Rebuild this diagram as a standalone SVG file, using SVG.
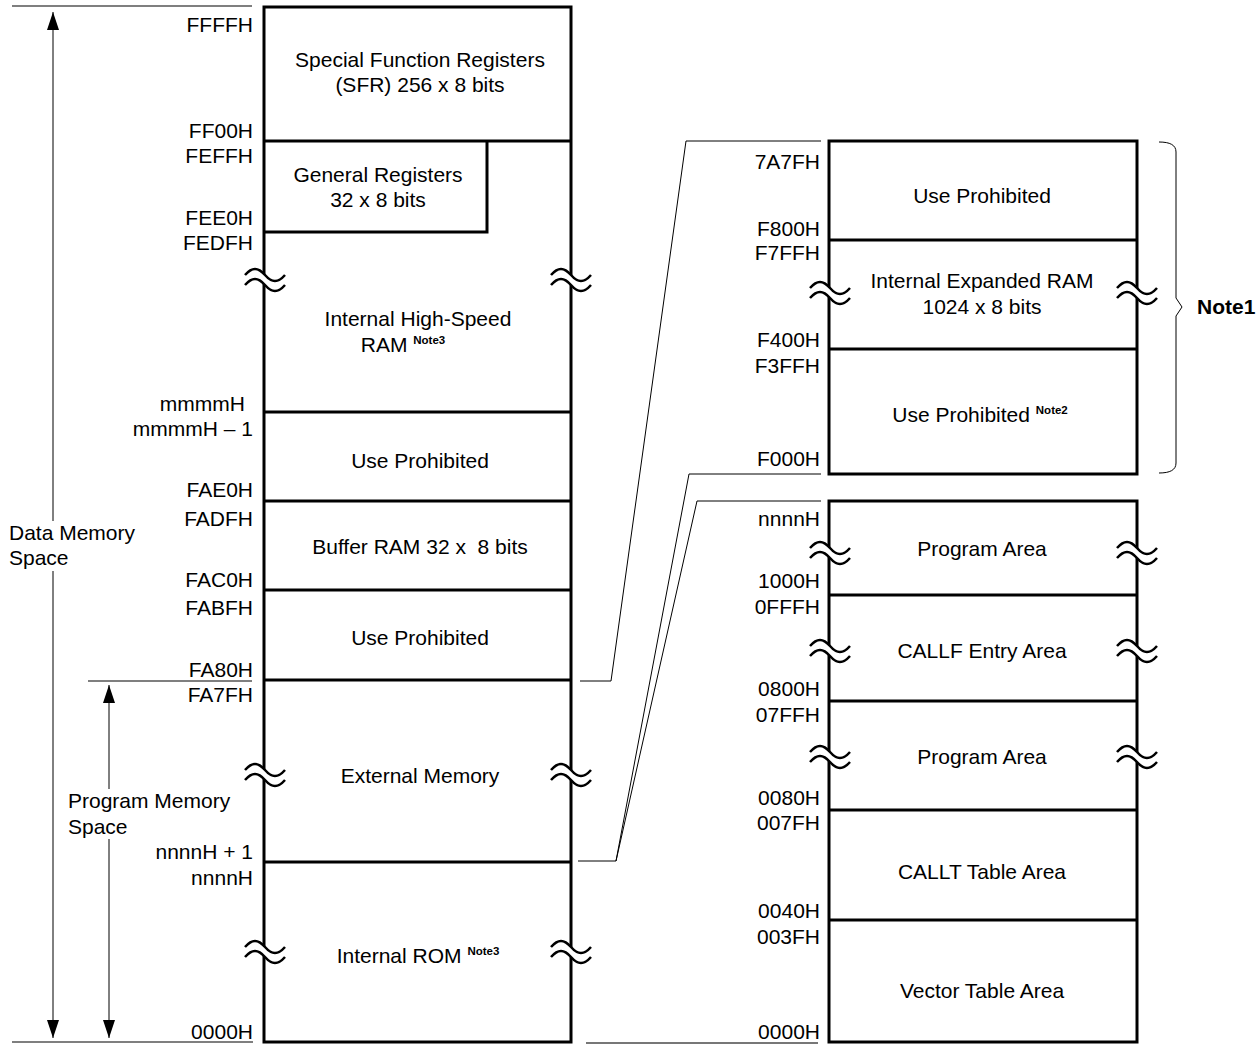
<svg xmlns="http://www.w3.org/2000/svg" xmlns:xlink="http://www.w3.org/1999/xlink" width="1258" height="1045" viewBox="0 0 1258 1045">
<style>
  text { font-family: "Liberation Sans", Arial, sans-serif; font-size: 21px; fill: #000; }
  .r { text-anchor: end; }
  .c { text-anchor: middle; }
  .sup { font-size: 11.5px; font-weight: bold; }
  .b { font-weight: bold; }
  .box { fill: #fff; stroke: #000; stroke-width: 3; }
  .div { stroke: #000; stroke-width: 3; fill: none; }
  .thin { stroke: #000; stroke-width: 1; fill: none; }
  .guide { stroke: #555; stroke-width: 1.5; fill: none; }
  .wave { stroke: #000; stroke-width: 2.5; fill: none; }
  .bg { fill: #fff; stroke: none; }
</style>
<defs>
  <g id="brk">
    <path d="M-20,-5 C-13,-13 -7,-13 0,-5 S13,3 20,-5 L20,5 C13,13 7,13 0,5 S-13,-3 -20,5 Z" fill="#fff" stroke="none"/>
    <path class="wave" d="M-20,-5 C-13,-13 -7,-13 0,-5 S13,3 20,-5"/>
    <path class="wave" d="M-20,5 C-13,-3 -7,-3 0,5 S13,13 20,5"/>
  </g>
  <marker id="ahs" viewBox="0 0 18 12" refX="18" refY="6" markerWidth="18" markerHeight="12" markerUnits="userSpaceOnUse" orient="auto-start-reverse">
    <path d="M0,0 L18,6 L0,12 Z" fill="#000"/>
  </marker>
</defs>

<g id="connectors">
  <line class="guide" x1="12" y1="6" x2="252" y2="6"/>
  <line class="guide" x1="12" y1="1042" x2="253" y2="1042"/>
  <line class="guide" x1="88" y1="681" x2="252" y2="681"/>
  <line class="thin" x1="53" y1="12" x2="53" y2="1038" marker-start="url(#ahs)" marker-end="url(#ahs)"/>
  <line class="thin" x1="109" y1="685" x2="109" y2="1038" marker-start="url(#ahs)" marker-end="url(#ahs)"/>
  <polyline class="thin" points="580,681 611,681 686,141 821,141"/>
  <polyline class="thin" points="578,861 616,861 689,474 821,474"/>
  <polyline class="thin" points="616,861 697,501 821,501"/>
  <line x1="586" y1="1043" x2="818" y2="1043" stroke="#777" stroke-width="2"/>
  <path class="thin" d="M1159,142 C1170,142 1176,145 1176,152 L1176,298 L1182,307 L1176,316 L1176,463 C1176,470 1170,473 1159,473"/>
</g>

<g id="left-memory-map">
  <rect class="box" x="264" y="7" width="307" height="1035"/>
  <g id="sfr">
    <line class="div" x1="264" y1="141" x2="571" y2="141"/>
    <text class="c" x="420" y="67">Special Function Registers</text>
    <text class="c" x="420" y="92">(SFR) 256 x 8 bits</text>
  </g>
  <g id="general-registers">
    <polyline class="div" points="264,232 487,232 487,141"/>
    <text class="c" x="378" y="182">General Registers</text>
    <text class="c" x="378" y="207">32 x 8 bits</text>
  </g>
  <g id="high-speed-ram">
    <line class="div" x1="264" y1="412" x2="571" y2="412"/>
    <text class="c" x="418" y="326">Internal High-Speed</text>
    <text class="c" x="403" y="352">RAM <tspan class="sup" dy="-8">Note3</tspan></text>
    <use xlink:href="#brk" x="265" y="280"/>
    <use xlink:href="#brk" x="571" y="280"/>
  </g>
  <g id="use-prohibited-1">
    <line class="div" x1="264" y1="501" x2="571" y2="501"/>
    <text class="c" x="420" y="468">Use Prohibited</text>
  </g>
  <g id="buffer-ram">
    <line class="div" x1="264" y1="590" x2="571" y2="590"/>
    <text class="c" x="420" y="554" xml:space="preserve">Buffer RAM 32 x  8 bits</text>
  </g>
  <g id="use-prohibited-2">
    <line class="div" x1="264" y1="680" x2="571" y2="680"/>
    <text class="c" x="420" y="645">Use Prohibited</text>
  </g>
  <g id="external-memory">
    <line class="div" x1="264" y1="862" x2="571" y2="862"/>
    <text class="c" x="420" y="783">External Memory</text>
    <use xlink:href="#brk" x="265" y="775"/>
    <use xlink:href="#brk" x="571" y="775"/>
  </g>
  <g id="internal-rom">
    <text class="c" x="418" y="963">Internal ROM <tspan class="sup" dy="-8">Note3</tspan></text>
    <use xlink:href="#brk" x="265" y="952"/>
    <use xlink:href="#brk" x="571" y="952"/>
  </g>
  <g id="left-addresses">
    <text class="r" x="253" y="32">FFFFH</text>
    <text class="r" x="253" y="138">FF00H</text>
    <text class="r" x="253" y="163">FEFFH</text>
    <text class="r" x="253" y="225">FEE0H</text>
    <text class="r" x="253" y="250">FEDFH</text>
    <text class="r" x="245" y="411">mmmmH</text>
    <text class="r" x="253" y="436">mmmmH – 1</text>
    <text class="r" x="253" y="497">FAE0H</text>
    <text class="r" x="253" y="526">FADFH</text>
    <text class="r" x="253" y="587">FAC0H</text>
    <text class="r" x="253" y="615">FABFH</text>
    <text class="r" x="253" y="677">FA80H</text>
    <text class="r" x="253" y="702">FA7FH</text>
    <text class="r" x="253" y="859">nnnnH + 1</text>
    <text class="r" x="253" y="885">nnnnH</text>
    <text class="r" x="253" y="1039">0000H</text>
  </g>
  <g id="space-labels">
    <rect class="bg" x="8" y="521" width="130" height="50"/>
    <text x="9" y="540">Data Memory</text>
    <text x="9" y="565">Space</text>
    <rect class="bg" x="67" y="789" width="166" height="50"/>
    <text x="68" y="808">Program Memory</text>
    <text x="68" y="834">Space</text>
  </g>
</g>

<g id="expanded-ram-map">
  <rect class="box" x="829" y="141" width="308" height="333"/>
  <g id="xr-use-prohibited">
    <line class="div" x1="829" y1="240" x2="1137" y2="240"/>
    <text class="c" x="982" y="203">Use Prohibited</text>
  </g>
  <g id="xr-expanded-ram">
    <line class="div" x1="829" y1="349" x2="1137" y2="349"/>
    <text class="c" x="982" y="288">Internal Expanded RAM</text>
    <text class="c" x="982" y="314">1024 x 8 bits</text>
    <use xlink:href="#brk" x="830" y="293"/>
    <use xlink:href="#brk" x="1137" y="293"/>
  </g>
  <g id="xr-use-prohibited-2">
    <text class="c" x="980" y="422">Use Prohibited <tspan class="sup" dy="-8">Note2</tspan></text>
  </g>
  <text class="b" x="1197" y="314">Note1</text>
  <g id="xr-addresses">
    <text class="r" x="820" y="169">7A7FH</text>
    <text class="r" x="820" y="236">F800H</text>
    <text class="r" x="820" y="260">F7FFH</text>
    <text class="r" x="820" y="347">F400H</text>
    <text class="r" x="820" y="373">F3FFH</text>
    <text class="r" x="820" y="466">F000H</text>
  </g>
</g>

<g id="rom-map">
  <rect class="box" x="829" y="501" width="308" height="541"/>
  <g id="program-area-1">
    <line class="div" x1="829" y1="595" x2="1137" y2="595"/>
    <text class="c" x="982" y="556">Program Area</text>
    <use xlink:href="#brk" x="830" y="553"/>
    <use xlink:href="#brk" x="1137" y="553"/>
  </g>
  <g id="callf-entry-area">
    <line class="div" x1="829" y1="701" x2="1137" y2="701"/>
    <text class="c" x="982" y="658">CALLF Entry Area</text>
    <use xlink:href="#brk" x="830" y="651"/>
    <use xlink:href="#brk" x="1137" y="651"/>
  </g>
  <g id="program-area-2">
    <line class="div" x1="829" y1="810" x2="1137" y2="810"/>
    <text class="c" x="982" y="764">Program Area</text>
    <use xlink:href="#brk" x="830" y="757"/>
    <use xlink:href="#brk" x="1137" y="757"/>
  </g>
  <g id="callt-table-area">
    <line class="div" x1="829" y1="920" x2="1137" y2="920"/>
    <text class="c" x="982" y="879">CALLT Table Area</text>
  </g>
  <g id="vector-table-area">
    <text class="c" x="982" y="998">Vector Table Area</text>
  </g>
  <g id="rom-addresses">
    <text class="r" x="820" y="526">nnnnH</text>
    <text class="r" x="820" y="588">1000H</text>
    <text class="r" x="820" y="614">0FFFH</text>
    <text class="r" x="820" y="696">0800H</text>
    <text class="r" x="820" y="722">07FFH</text>
    <text class="r" x="820" y="805">0080H</text>
    <text class="r" x="820" y="830">007FH</text>
    <text class="r" x="820" y="918">0040H</text>
    <text class="r" x="820" y="944">003FH</text>
    <text class="r" x="820" y="1039">0000H</text>
  </g>
</g>
</svg>
